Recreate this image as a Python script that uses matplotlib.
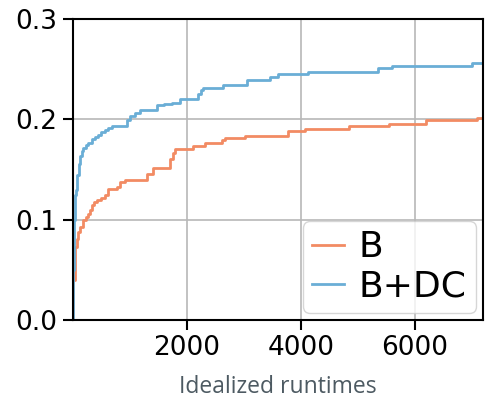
import matplotlib
matplotlib.use('Agg')
import matplotlib.pyplot as plt

# cumulative fraction solved vs. idealized runtime (step curves)
b_x = [0, 5, 35, 64, 90, 123, 181, 230, 270, 300, 328, 370, 416, 500, 562, 621,
       767, 826, 913, 1294, 1411, 1703, 1762, 1791, 2113, 2318, 2620, 2669, 3020,
       3781, 4074, 4850, 5550, 6190, 7089, 7200]
b_y = [0.0, 0.04, 0.073, 0.081, 0.088, 0.093, 0.0997, 0.103, 0.106, 0.11, 0.115,
       0.118, 0.12, 0.122, 0.125, 0.131, 0.133, 0.138, 0.140, 0.146, 0.151, 0.160,
       0.166, 0.170, 0.173, 0.176, 0.179, 0.181, 0.1835, 0.188, 0.190, 0.193,
       0.1955, 0.199, 0.201, 0.201]

bdc_x = [0, 8, 15, 22, 30, 40, 52, 64, 80, 100, 123, 152, 181, 230, 270, 328, 390,
         445, 500, 562, 620, 679, 942, 1000, 1089, 1177, 1470, 1600, 1733, 1879,
         2200, 2240, 2283, 2634, 3050, 3459, 3600, 4127, 5356, 5596, 7000, 7200]
bdc_y = [0.0, 0.05, 0.08, 0.10, 0.115, 0.125, 0.13, 0.136, 0.145, 0.155, 0.163,
         0.168, 0.171, 0.174, 0.176, 0.18, 0.182, 0.184, 0.187, 0.189, 0.191, 0.193,
         0.199, 0.203, 0.206, 0.209, 0.214, 0.215, 0.216, 0.22, 0.225, 0.229, 0.231,
         0.234, 0.239, 0.242, 0.245, 0.2475, 0.251, 0.253, 0.2565, 0.2565]

x_ticks = [2000, 4000, 6000]
y_ticks = [0.0, 0.1, 0.2, 0.3]

fig = plt.figure(figsize=(4.86, 4.05), dpi=100)
ax = fig.add_axes([0.150, 0.210, 0.844, 0.743])

ax.step(b_x, b_y, where='post', color='#f28b63', lw=2, label='B')
ax.step(bdc_x, bdc_y, where='post', color='#6aaed6', lw=2, label='B+DC')

ax.set_xlim(0, 7200)
ax.set_ylim(0, 0.3)
ax.set_xticks(x_ticks)
ax.set_yticks(y_ticks)
ax.set_yticklabels(['%.1f' % v for v in y_ticks])
ax.grid(True, color='#b8b8b8', lw=1.2)
ax.set_axisbelow(True)

for s in ax.spines.values():
    s.set_linewidth(1.5)
    s.set_color('black')
ax.tick_params(labelsize=19, length=7, width=1.5, pad=4)

ax.set_xlabel('Idealized runtimes', fontsize=16.5, color='#4d5a62',
              family=['Open Sans', 'DejaVu Sans'], labelpad=10)

ax.legend(loc='lower right', fontsize=26, handlelength=0.9, handletextpad=0.4,
          labelspacing=0.15, borderpad=0.25, borderaxespad=0.2, framealpha=0.8)

fig.savefig('out.png', dpi=100)
